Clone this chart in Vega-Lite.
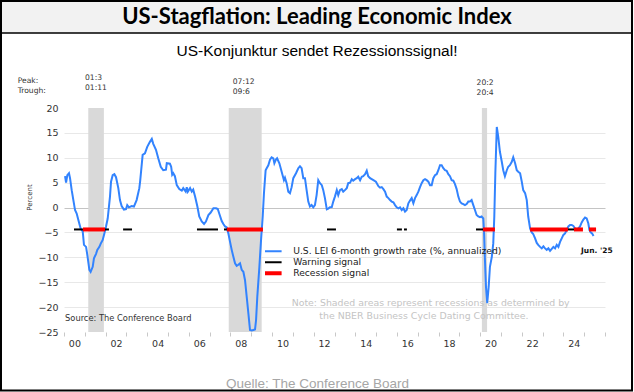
{
  "$schema": "https://vega.github.io/schema/vega-lite/v6.json",
  "width": 541,
  "height": 224,
  "autosize": {"type": "none"},
  "padding": {"left": 64, "top": 108, "right": 29, "bottom": 60},
  "background": "#ffffff",
  "config": {
    "view": {"stroke": null},
    "font": "DejaVu Sans"
  },
  "datasets": {
    "lei": [
      {"t":2000.05,"v":6.3},{"t":2000.10,"v":5.0},{"t":2000.16,"v":6.5},{"t":2000.24,"v":6.9},{"t":2000.29,"v":5.9},{"t":2000.37,"v":3.5},{"t":2000.45,"v":1.5},{"t":2000.53,"v":-0.5},{"t":2000.61,"v":-1.2},{"t":2000.69,"v":-2.5},{"t":2000.80,"v":-4.2},{"t":2000.90,"v":-4.8},{"t":2000.96,"v":-7.5},{"t":2001.06,"v":-7.9},{"t":2001.12,"v":-9.5},{"t":2001.22,"v":-12.5},{"t":2001.28,"v":-12.9},{"t":2001.38,"v":-11.9},{"t":2001.44,"v":-10.2},{"t":2001.54,"v":-9.3},{"t":2001.60,"v":-8.5},{"t":2001.70,"v":-7.9},{"t":2001.76,"v":-7.3},{"t":2001.86,"v":-6.5},{"t":2001.94,"v":-5.2},{"t":2002.02,"v":-3.8},{"t":2002.10,"v":-2.2},{"t":2002.16,"v":0.2},{"t":2002.21,"v":2.2},{"t":2002.26,"v":5.2},{"t":2002.34,"v":6.5},{"t":2002.42,"v":6.7},{"t":2002.50,"v":6.1},{"t":2002.61,"v":3.9},{"t":2002.69,"v":1.5},{"t":2002.77,"v":0.3},{"t":2002.88,"v":-0.4},{"t":2002.98,"v":-0.3},{"t":2003.04,"v":0.5},{"t":2003.12,"v":0.05},{"t":2003.25,"v":0.3},{"t":2003.36,"v":0.2},{"t":2003.49,"v":1.5},{"t":2003.62,"v":3.9},{"t":2003.66,"v":5.3},{"t":2003.78,"v":10.6},{"t":2003.89,"v":10.9},{"t":2004.00,"v":12.2},{"t":2004.13,"v":13.2},{"t":2004.22,"v":13.8},{"t":2004.29,"v":12.8},{"t":2004.42,"v":11.6},{"t":2004.53,"v":9.9},{"t":2004.65,"v":8.2},{"t":2004.77,"v":7.5},{"t":2004.90,"v":7.6},{"t":2004.94,"v":8.9},{"t":2005.09,"v":8.8},{"t":2005.15,"v":8.2},{"t":2005.20,"v":6.6},{"t":2005.25,"v":6.9},{"t":2005.33,"v":6.3},{"t":2005.42,"v":4.5},{"t":2005.54,"v":3.7},{"t":2005.66,"v":3.4},{"t":2005.73,"v":3.9},{"t":2005.85,"v":3.2},{"t":2005.90,"v":4.1},{"t":2005.95,"v":3.2},{"t":2006.06,"v":3.9},{"t":2006.14,"v":3.2},{"t":2006.21,"v":3.6},{"t":2006.30,"v":2.2},{"t":2006.41,"v":0.2},{"t":2006.50,"v":-1.8},{"t":2006.62,"v":-2.8},{"t":2006.73,"v":-3.3},{"t":2006.82,"v":-2.8},{"t":2006.94,"v":-1.5},{"t":2007.05,"v":-1.0},{"t":2007.18,"v":-0.15},{"t":2007.31,"v":-0.15},{"t":2007.39,"v":-0.3},{"t":2007.46,"v":-1.2},{"t":2007.58,"v":-2.7},{"t":2007.66,"v":-3.3},{"t":2007.74,"v":-3.8},{"t":2007.82,"v":-4.0},{"t":2007.90,"v":-5.2},{"t":2007.98,"v":-6.9},{"t":2008.06,"v":-8.5},{"t":2008.14,"v":-9.9},{"t":2008.22,"v":-11.2},{"t":2008.30,"v":-11.7},{"t":2008.38,"v":-11.5},{"t":2008.46,"v":-11.2},{"t":2008.54,"v":-12.5},{"t":2008.62,"v":-12.9},{"t":2008.70,"v":-14.6},{"t":2008.78,"v":-17.9},{"t":2008.86,"v":-21.2},{"t":2008.94,"v":-24.6},{"t":2009.02,"v":-24.7},{"t":2009.10,"v":-24.6},{"t":2009.18,"v":-24.5},{"t":2009.23,"v":-22.6},{"t":2009.29,"v":-17.9},{"t":2009.39,"v":-11.9},{"t":2009.47,"v":-6.5},{"t":2009.55,"v":-1.8},{"t":2009.61,"v":2.9},{"t":2009.69,"v":7.5},{"t":2009.74,"v":7.9},{"t":2009.82,"v":8.5},{"t":2009.90,"v":9.6},{"t":2009.98,"v":10.1},{"t":2010.06,"v":9.9},{"t":2010.11,"v":8.9},{"t":2010.19,"v":9.7},{"t":2010.24,"v":9.9},{"t":2010.35,"v":8.9},{"t":2010.46,"v":7.2},{"t":2010.57,"v":5.5},{"t":2010.62,"v":6.0},{"t":2010.70,"v":4.9},{"t":2010.78,"v":3.2},{"t":2010.86,"v":2.9},{"t":2010.94,"v":4.1},{"t":2011.02,"v":5.9},{"t":2011.15,"v":6.9},{"t":2011.26,"v":7.9},{"t":2011.34,"v":8.3},{"t":2011.42,"v":7.9},{"t":2011.50,"v":5.9},{"t":2011.58,"v":5.9},{"t":2011.66,"v":3.5},{"t":2011.74,"v":1.2},{"t":2011.82,"v":0.2},{"t":2011.90,"v":0.5},{"t":2011.98,"v":0.05},{"t":2012.06,"v":0.5},{"t":2012.14,"v":2.5},{"t":2012.22,"v":5.5},{"t":2012.30,"v":4.9},{"t":2012.39,"v":4.5},{"t":2012.46,"v":3.5},{"t":2012.54,"v":1.9},{"t":2012.63,"v":-0.35},{"t":2012.70,"v":-0.2},{"t":2012.78,"v":0.05},{"t":2012.87,"v":0.1},{"t":2012.94,"v":1.2},{"t":2013.02,"v":2.2},{"t":2013.11,"v":3.5},{"t":2013.18,"v":2.5},{"t":2013.26,"v":3.5},{"t":2013.35,"v":3.7},{"t":2013.42,"v":3.2},{"t":2013.50,"v":3.5},{"t":2013.59,"v":3.9},{"t":2013.66,"v":4.9},{"t":2013.75,"v":5.0},{"t":2013.83,"v":5.7},{"t":2013.90,"v":5.4},{"t":2013.99,"v":5.7},{"t":2014.07,"v":5.9},{"t":2014.14,"v":6.2},{"t":2014.23,"v":5.5},{"t":2014.31,"v":6.2},{"t":2014.38,"v":6.3},{"t":2014.47,"v":6.7},{"t":2014.55,"v":7.4},{"t":2014.62,"v":6.3},{"t":2014.71,"v":5.9},{"t":2014.87,"v":5.5},{"t":2014.99,"v":5.2},{"t":2015.11,"v":4.3},{"t":2015.19,"v":4.0},{"t":2015.27,"v":4.1},{"t":2015.35,"v":3.7},{"t":2015.43,"v":3.2},{"t":2015.51,"v":2.2},{"t":2015.59,"v":1.9},{"t":2015.67,"v":1.5},{"t":2015.75,"v":1.2},{"t":2015.83,"v":1.05},{"t":2015.91,"v":0.5},{"t":2015.99,"v":0.05},{"t":2016.07,"v":-0.15},{"t":2016.15,"v":0.05},{"t":2016.23,"v":-0.5},{"t":2016.31,"v":-0.15},{"t":2016.39,"v":-0.8},{"t":2016.47,"v":-0.5},{"t":2016.55,"v":0.85},{"t":2016.63,"v":1.4},{"t":2016.71,"v":1.9},{"t":2016.79,"v":0.85},{"t":2016.87,"v":1.9},{"t":2016.95,"v":2.5},{"t":2017.03,"v":3.2},{"t":2017.11,"v":4.1},{"t":2017.19,"v":4.9},{"t":2017.27,"v":5.5},{"t":2017.35,"v":5.7},{"t":2017.43,"v":5.5},{"t":2017.51,"v":5.2},{"t":2017.59,"v":4.5},{"t":2017.67,"v":4.5},{"t":2017.75,"v":5.9},{"t":2017.83,"v":6.5},{"t":2017.91,"v":6.7},{"t":2017.99,"v":7.5},{"t":2018.07,"v":8.5},{"t":2018.15,"v":8.5},{"t":2018.23,"v":7.9},{"t":2018.31,"v":7.5},{"t":2018.39,"v":7.4},{"t":2018.47,"v":6.7},{"t":2018.55,"v":6.3},{"t":2018.63,"v":5.5},{"t":2018.71,"v":5.4},{"t":2018.79,"v":4.7},{"t":2018.87,"v":3.7},{"t":2018.95,"v":2.2},{"t":2019.03,"v":1.2},{"t":2019.11,"v":0.85},{"t":2019.19,"v":0.7},{"t":2019.27,"v":0.5},{"t":2019.35,"v":0.7},{"t":2019.43,"v":1.2},{"t":2019.51,"v":1.2},{"t":2019.59,"v":1.5},{"t":2019.67,"v":0.5},{"t":2019.75,"v":-0.5},{"t":2019.83,"v":-1.5},{"t":2019.91,"v":-1.8},{"t":2019.99,"v":-1.95},{"t":2020.07,"v":-1.8},{"t":2020.15,"v":-2.2},{"t":2020.19,"v":-5.2},{"t":2020.23,"v":-10.5},{"t":2020.28,"v":-15.9},{"t":2020.34,"v":-19.2},{"t":2020.41,"v":-15.9},{"t":2020.47,"v":-11.9},{"t":2020.56,"v":-9.9},{"t":2020.63,"v":-7.2},{"t":2020.68,"v":-1.8},{"t":2020.73,"v":6.9},{"t":2020.80,"v":16.2},{"t":2020.87,"v":14.2},{"t":2020.95,"v":11.2},{"t":2021.04,"v":9.2},{"t":2021.11,"v":7.5},{"t":2021.19,"v":6.3},{"t":2021.28,"v":7.5},{"t":2021.35,"v":8.2},{"t":2021.43,"v":8.5},{"t":2021.52,"v":9.2},{"t":2021.59,"v":10.1},{"t":2021.68,"v":8.9},{"t":2021.76,"v":7.5},{"t":2021.83,"v":7.2},{"t":2021.92,"v":6.9},{"t":2022.00,"v":5.2},{"t":2022.07,"v":3.5},{"t":2022.16,"v":2.9},{"t":2022.24,"v":1.5},{"t":2022.31,"v":-1.8},{"t":2022.40,"v":-4.2},{"t":2022.48,"v":-5.0},{"t":2022.55,"v":-5.3},{"t":2022.64,"v":-6.2},{"t":2022.72,"v":-7.1},{"t":2022.79,"v":-7.5},{"t":2022.88,"v":-7.9},{"t":2022.96,"v":-8.2},{"t":2023.04,"v":-7.8},{"t":2023.12,"v":-8.2},{"t":2023.20,"v":-8.5},{"t":2023.28,"v":-8.2},{"t":2023.36,"v":-8.7},{"t":2023.44,"v":-8.3},{"t":2023.52,"v":-7.9},{"t":2023.60,"v":-8.2},{"t":2023.68,"v":-7.5},{"t":2023.76,"v":-7.9},{"t":2023.84,"v":-6.9},{"t":2023.92,"v":-6.2},{"t":2024.00,"v":-5.5},{"t":2024.08,"v":-5.2},{"t":2024.16,"v":-4.5},{"t":2024.24,"v":-3.8},{"t":2024.32,"v":-3.5},{"t":2024.40,"v":-3.5},{"t":2024.48,"v":-3.7},{"t":2024.56,"v":-4.2},{"t":2024.64,"v":-4.4},{"t":2024.72,"v":-4.2},{"t":2024.80,"v":-3.8},{"t":2024.88,"v":-3.0},{"t":2024.96,"v":-2.4},{"t":2025.04,"v":-2.0},{"t":2025.12,"v":-2.2},{"t":2025.20,"v":-3.2},{"t":2025.25,"v":-4.5},{"t":2025.31,"v":-5.0},{"t":2025.38,"v":-5.2},{"t":2025.45,"v":-5.7}
    ],
    "recessions": [
      {"start": 2001.167, "end": 2001.917},
      {"start": 2007.917, "end": 2009.5},
      {"start": 2020.083, "end": 2020.333}
    ],
    "warning": [
      {"start": 2000.48, "end": 2000.91},
      {"start": 2001.97, "end": 2002.16},
      {"start": 2002.84, "end": 2003.27},
      {"start": 2006.39, "end": 2007.40},
      {"start": 2007.69, "end": 2007.83},
      {"start": 2012.64, "end": 2013.07},
      {"start": 2016.00, "end": 2016.24},
      {"start": 2016.34, "end": 2016.48},
      {"start": 2019.80, "end": 2020.14},
      {"start": 2024.22, "end": 2024.51}
    ],
    "recession_signal": [
      {"start": 2000.91, "end": 2001.97},
      {"start": 2007.83, "end": 2009.56},
      {"start": 2020.14, "end": 2020.71},
      {"start": 2022.40, "end": 2024.22},
      {"start": 2024.51, "end": 2024.94},
      {"start": 2025.23, "end": 2025.57}
    ],
    "peaks": [
      {"t": 1997.775, "v": 25.48, "label": "Peak:"},
      {"t": 1997.775, "v": 23.48, "label": "Trough:"},
      {"t": 2001.01, "v": 25.97, "label": "01:3"},
      {"t": 2001.01, "v": 23.96, "label": "01:11"},
      {"t": 2008.11, "v": 25.28, "label": "07:12"},
      {"t": 2008.11, "v": 23.27, "label": "09:6"},
      {"t": 2019.83, "v": 24.96, "label": "20:2"},
      {"t": 2019.83, "v": 22.95, "label": "20:4"}
    ],
    "notes": [
      {"t": 2010.94, "v": -19.24, "label": "Note: Shaded areas represent recessions as determined by"},
      {"t": 2012.27, "v": -21.79, "label": "the NBER Business Cycle Dating Committee."}
    ]
  },
  "layer": [
    {
      "data": {"name": "lei"},
      "mark": {"type": "line", "strokeWidth": 0, "opacity": 0},
      "encoding": {
        "x": {
          "field": "t", "type": "quantitative",
          "scale": {"domain": [2000, 2026], "nice": false, "zero": false},
          "axis": {
            "values": [2000,2001,2002,2003,2004,2005,2006,2007,2008,2009,2010,2011,2012,2013,2014,2015,2016,2017,2018,2019,2020,2021,2022,2023,2024,2025,2026],
            "tickCount": 40,
            "format": "d",
            "labelExpr": "(datum.value % 2 === 0 && datum.value < 2025) ? substring(datum.label, 2) : ''",
            "labelOffset": 10.4,
            "labelOverlap": false,
            "labelFlush": false,
            "labelBound": false,
            "labelFont": "DejaVu Sans",
            "labelFontSize": 9.5,
            "labelColor": "#333333",
            "labelPadding": 2,
            "domain": false,
            "grid": false,
            "ticks": true,
            "tickColor": "#c8c8c8",
            "tickSize": 4,
            "title": "Quelle: The Conference Board",
            "titleX": 253,
            "titleY": 51,
            "titleBaseline": "middle",
            "titleAlign": "center",
            "titleFont": "Liberation Sans",
            "titleFontSize": 13.5,
            "titleFontWeight": "normal",
            "titleColor": "#a6a6a6"
          }
        },
        "y": {
          "field": "v", "type": "quantitative",
          "scale": {"domain": [-25, 20], "nice": false, "zero": false},
          "axis": {
            "values": [-25,-20,-15,-10,-5,0,5,10,15,20],
            "tickCount": 20,
            "labelOverlap": false,
            "labelFlush": false,
            "labelBound": false,
            "labelFont": "DejaVu Sans",
            "labelFontSize": 9.5,
            "labelColor": "#333333",
            "labelPadding": 6,
            "domain": false,
            "ticks": false,
            "grid": true,
            "gridColor": {"condition": [{"test": "datum.value === 0", "value": "#c4c4c4"}, {"test": "datum.value === 20 || datum.value === -25", "value": "rgba(0,0,0,0)"}], "value": "#e8e8e8"},
            "title": "Percent",
            "titleX": -35,
            "titleY": 89,
            "titleAngle": 270,
            "titleAlign": "center",
            "titleBaseline": "middle",
            "titleFont": "DejaVu Sans",
            "titleFontSize": 7,
            "titleFontWeight": "normal",
            "titleColor": "#333333"
          }
        }
      }
    },
    {
      "data": {"values": [{}]},
      "mark": {"type": "rect", "fill": "#f2f2f2", "stroke": "#000000", "strokeWidth": 1.5},
      "encoding": {
        "x": {"datum": 1996.972, "type": "quantitative"},
        "x2": {"datum": 2027.298},
        "y": {"datum": 41.5, "type": "quantitative"},
        "y2": {"datum": 35.07}
      }
    },
    {
      "data": {"name": "recessions"},
      "mark": {"type": "rect", "fill": "#d9d9d9"},
      "encoding": {
        "x": {"field": "start", "type": "quantitative"},
        "x2": {"field": "end"}
      }
    },
    {
      "data": {"name": "lei"},
      "mark": {"type": "line", "strokeWidth": 2},
      "encoding": {
        "x": {"field": "t", "type": "quantitative"},
        "y": {"field": "v", "type": "quantitative"},
        "color": {
          "datum": "U.S. LEI 6-month growth rate (%, annualized)",
          "type": "nominal",
          "scale": {"domain": ["U.S. LEI 6-month growth rate (%, annualized)", "Warning signal", "Recession signal"], "range": ["#3283fe", "#000000", "#ff0000"]},
          "legend": {
            "title": null,
            "orient": "none",
            "legendX": 201,
            "legendY": 138,
            "symbolType": "stroke",
            "symbolSize": 576,
            "symbolStrokeWidth": 2,
            "clipHeight": 10.5,
            "rowPadding": 0,
            "padding": 0,
            "labelFont": "DejaVu Sans",
            "labelFontSize": 9.2,
            "labelColor": "#222222",
            "labelOffset": 19,
            "labelLimit": 400,
            "encode": {"symbols": {"update": {"strokeWidth": {"signal": "datum.value === 'Recession signal' ? 4 : 2"}}}}
          }
        }
      }
    },
    {
      "data": {"name": "warning"},
      "mark": {"type": "rule", "strokeWidth": 2},
      "encoding": {
        "x": {"field": "start", "type": "quantitative"},
        "x2": {"field": "end"},
        "y": {"datum": -4.4, "type": "quantitative"},
        "color": {"datum": "Warning signal", "type": "nominal"}
      }
    },
    {
      "data": {"name": "recession_signal"},
      "mark": {"type": "rule", "strokeWidth": 4},
      "encoding": {
        "x": {"field": "start", "type": "quantitative"},
        "x2": {"field": "end"},
        "y": {"datum": -4.4, "type": "quantitative"},
        "color": {"datum": "Recession signal", "type": "nominal"}
      }
    },
    {
      "data": {"name": "peaks"},
      "mark": {"type": "text", "align": "left", "baseline": "middle", "font": "DejaVu Sans", "fontSize": 7.6, "color": "#333333"},
      "encoding": {
        "x": {"field": "t", "type": "quantitative"},
        "y": {"field": "v", "type": "quantitative"},
        "text": {"field": "label"}
      }
    },
    {
      "data": {"name": "notes"},
      "mark": {"type": "text", "align": "left", "baseline": "middle", "font": "DejaVu Sans", "fontSize": 9.4, "color": "#c4c4c4"},
      "encoding": {
        "x": {"field": "t", "type": "quantitative"},
        "y": {"field": "v", "type": "quantitative"},
        "text": {"field": "label"}
      }
    },
    {
      "data": {"values": [{"label": "Source: The Conference Board"}]},
      "mark": {"type": "text", "align": "left", "baseline": "middle", "font": "DejaVu Sans", "fontSize": 8.3, "color": "#333333"},
      "encoding": {
        "x": {"datum": 2000.05, "type": "quantitative"},
        "y": {"datum": -22.45, "type": "quantitative"},
        "text": {"field": "label"}
      }
    },
    {
      "data": {"values": [{"label": "Jun. '25"}]},
      "mark": {"type": "text", "align": "left", "baseline": "middle", "font": "DejaVu Sans", "fontSize": 7.5, "fontWeight": "bold", "color": "#111111"},
      "encoding": {
        "x": {"datum": 2024.85, "type": "quantitative"},
        "y": {"datum": -8.67, "type": "quantitative"},
        "text": {"field": "label"}
      }
    },
    {
      "data": {"values": [{"label": "US-Stagflation: Leading Economic Index"}]},
      "mark": {"type": "text", "align": "center", "baseline": "middle", "font": "Lato", "fontSize": 22, "fontWeight": "bold", "color": "#000000"},
      "encoding": {
        "x": {"datum": 2012.16, "type": "quantitative"},
        "y": {"datum": 38.28, "type": "quantitative"},
        "text": {"field": "label"}
      }
    },
    {
      "data": {"values": [{"label": "US-Konjunktur sendet Rezessionssignal!"}]},
      "mark": {"type": "text", "align": "center", "baseline": "middle", "font": "Liberation Sans", "fontSize": 15.5, "color": "#000000"},
      "encoding": {
        "x": {"datum": 2012.16, "type": "quantitative"},
        "y": {"datum": 31.45, "type": "quantitative"},
        "text": {"field": "label"}
      }
    },
    {
      "data": {"values": [{}]},
      "mark": {"type": "rect", "fillOpacity": 0, "stroke": "#000000", "strokeWidth": 2},
      "encoding": {
        "x": {"datum": 1996.972, "type": "quantitative"},
        "x2": {"datum": 2027.298},
        "y": {"datum": 41.5, "type": "quantitative"},
        "y2": {"datum": -36.75}
      }
    }
  ]
}
